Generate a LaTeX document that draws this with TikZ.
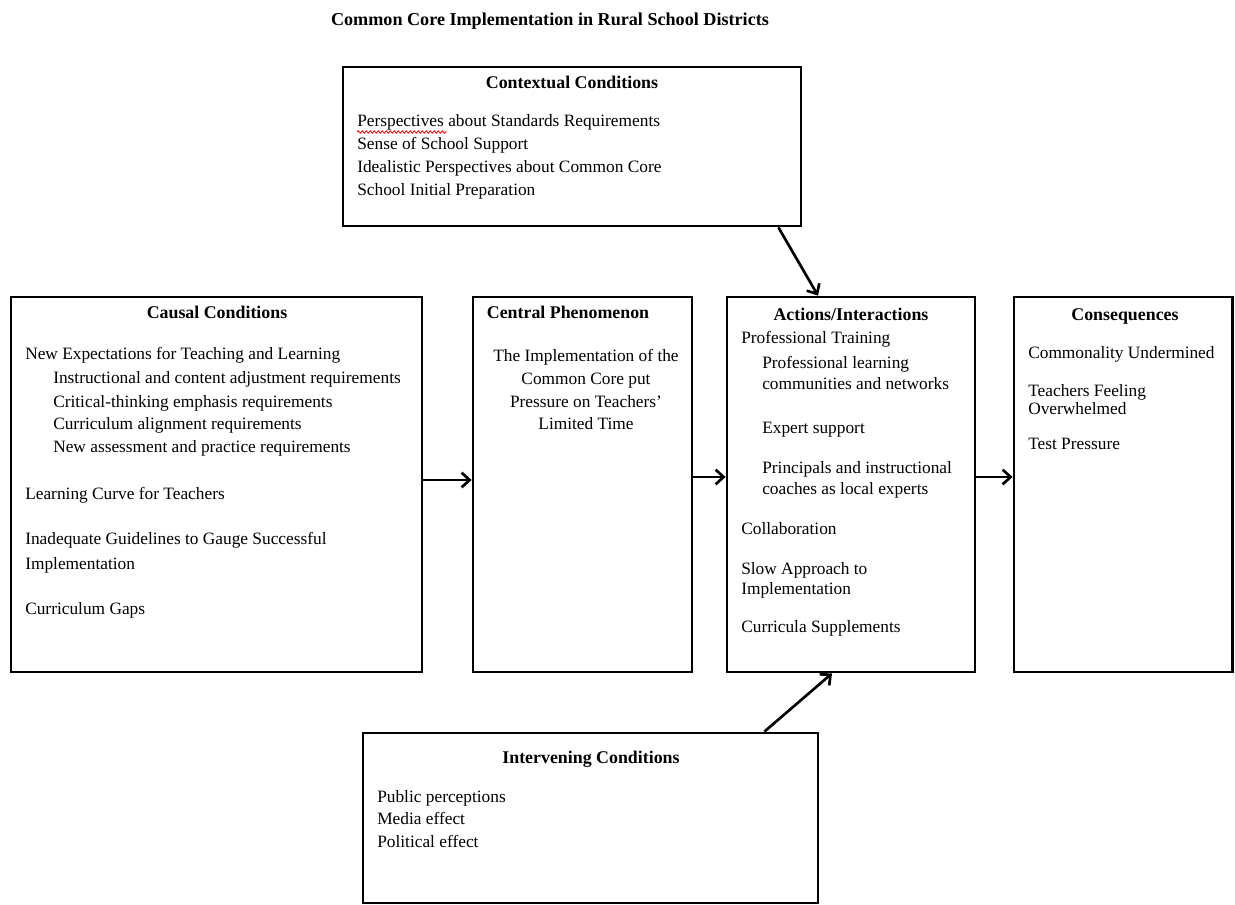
\documentclass[tikz,border=0pt]{standalone}
\usepackage{fontspec}
\setmainfont{Liberation Serif}
\usetikzlibrary{arrows.meta,fit,calc,decorations.pathmorphing}
\newcommand\tline[4]{\node[txt] (#1) at (#2,#3) {#4};}
\newcommand\cenline[4]{\node[ctr] (#1) at (#2,#3) {#4};}
\begin{document}
\begin{tikzpicture}[x=0.75pt,y=-0.75pt,
  box/.style={draw,line width=2.1pt,inner sep=0pt},
  arr/.style={line width=2pt,-{Straight Barb[length=6pt,width=11pt]}},
  txt/.style={anchor=base west,inner sep=0pt,font=\fontsize{13}{15}\selectfont},
  ctr/.style={anchor=base,inner sep=0pt,font=\fontsize{13}{15}\selectfont},
  hd/.style={anchor=base,inner sep=0pt,font=\fontsize{13.4}{15}\selectfont\bfseries}]
\useasboundingbox (0,0) rectangle (1235,905);

% title
\node[hd,font=\fontsize{13.6}{16}\selectfont\bfseries] (title) at (550,26) {Common Core Implementation in Rural School Districts};

% boxes
\node[box,fit={(343,67) (801,226)}] (ctx) {};
\node[box,fit={(11,297) (422,672)}] (cau) {};
\node[box,fit={(473,297) (692,672)}] (cen) {};
\node[box,fit={(727,297) (975,672)}] (act) {};
\node[box,fit={(1014,297) (1232.5,672)}] (con) {};
\node[box,fit={(363,733) (818,903)}] (int) {};

% contextual
\node[hd] (ctxh) at (572,89) {Contextual Conditions};
\tline{c1}{357}{127}{Perspectives about Standards Requirements}
\tline{c2}{357}{150}{Sense of School Support}
\tline{c3}{357}{173}{Idealistic Perspectives about Common Core}
\tline{c4}{357}{196}{School Initial Preparation}
\draw[red,line width=0.6pt,decorate,decoration={snake,amplitude=0.9pt,segment length=3pt}] (357,132) -- (447,132);

% causal
\node[hd] (cauh) at (217,319) {Causal Conditions};
\tline{a1}{25}{360}{New Expectations for Teaching and Learning}
\tline{a2}{53}{384}{Instructional and content adjustment requirements}
\tline{a3}{53}{407}{Critical-thinking emphasis requirements}
\tline{a4}{53}{430}{Curriculum alignment requirements}
\tline{a5}{53}{452}{New assessment and practice requirements}
\tline{a6}{25}{499}{Learning Curve for Teachers}
\tline{a7}{25}{544}{Inadequate Guidelines to Gauge Successful}
\tline{a8}{25}{569}{Implementation}
\tline{a9}{25}{614}{Curriculum Gaps}

% central
\node[hd] (cenh) at (568,319) {Central Phenomenon};
\cenline{p1}{586}{362}{The Implementation of the}
\cenline{p2}{586}{385}{Common Core put}
\cenline{p3}{586}{407}{Pressure on Teachers’}
\cenline{p4}{586}{430}{Limited Time}

% actions
\node[hd] (acth) at (851,321) {Actions/Interactions};
\tline{b1}{741}{344}{Professional Training}
\tline{b2}{762}{369}{Professional learning}
\tline{b3}{762}{390}{communities and networks}
\tline{b4}{762}{434}{Expert support}
\tline{b5}{762}{474}{Principals and instructional}
\tline{b6}{762}{494}{coaches as local experts}
\tline{b7}{741}{534}{Collaboration}
\tline{b8}{741}{574}{Slow Approach to}
\tline{b9}{741}{594}{Implementation}
\tline{b10}{741}{632}{Curricula Supplements}

% consequences
\node[hd] (conh) at (1125,321) {Consequences};
\tline{d1}{1028}{359}{Commonality Undermined}
\tline{d2}{1028}{397}{Teachers Feeling}
\tline{d3}{1028}{415}{Overwhelmed}
\tline{d4}{1028}{450}{Test Pressure}

% intervening
\node[hd] (inth) at (591,763) {Intervening Conditions};
\tline{e1}{377}{802}{Public perceptions}
\tline{e2}{377}{824}{Media effect}
\tline{e3}{377}{847}{Political effect}

% connectors
\draw[arr] ($(cau.east)+(0,-4.5)$) -- ($(cen.west)+(0,-4.5)$);
\draw[arr] ($(cen.east)+(0,-7.5)$) -- ($(act.west)+(0,-7.5)$);
\draw[arr] ($(act.east)+(0,-7.5)$) -- ($(con.west)+(0,-7.5)$);
\draw[arr] ($(ctx.south east)+(-24,0)$) -- ($(act.north)+(-33,0)$);
\draw[arr] ($(int.north east)+(-55,0)$) -- ($(act.south)+(-19,0)$);
\end{tikzpicture}
\end{document}
